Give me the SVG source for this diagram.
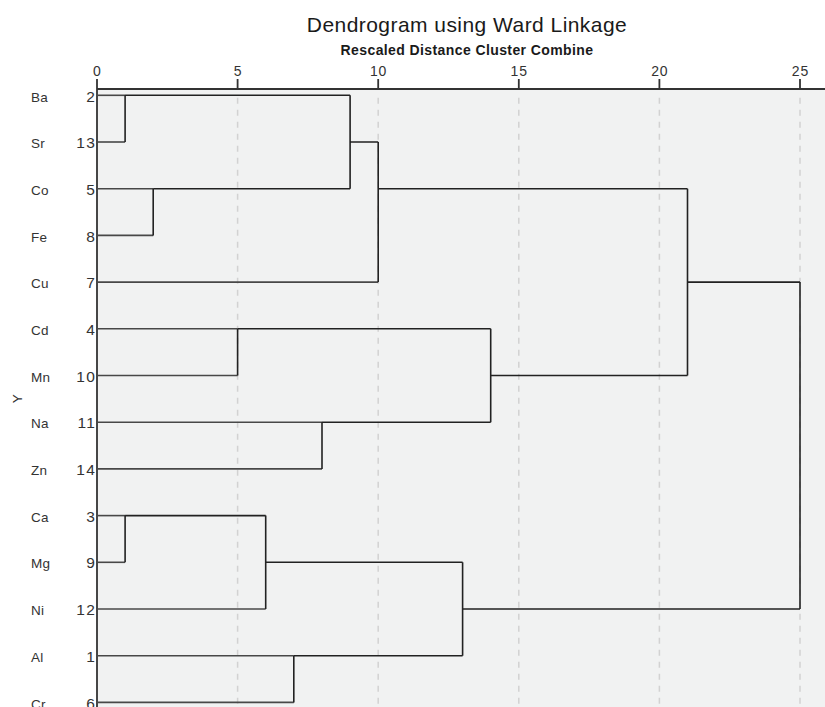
<svg xmlns="http://www.w3.org/2000/svg" width="825" height="707" viewBox="0 0 825 707">
<style>
text{font-family:"Liberation Sans",Arial,sans-serif;fill:#1a1a1a}
.title{font-size:21px;letter-spacing:0.45px}
.sub{font-size:14px;font-weight:bold;letter-spacing:0.4px}
.tick{font-size:14px;letter-spacing:0.8px;fill:#333}
.lab{font-size:13.5px;letter-spacing:0.3px;fill:#333}
.num{font-size:15.5px;letter-spacing:1.2px;fill:#333;text-anchor:end}
.grid{stroke:#d2d2d2;stroke-width:1.5;stroke-dasharray:6 6;fill:none}
.axis{stroke:#333;stroke-width:1.8;fill:none}
.leaf{stroke:#484848;stroke-width:1.6;fill:none}
.link{stroke:#222;stroke-width:1.6;fill:none}
</style>
<rect x="0" y="0" width="825" height="707" fill="#ffffff"/>
<rect x="97" y="89" width="728" height="618" fill="#f1f2f2"/>
<text class="title" x="467" y="32" text-anchor="middle">Dendrogram using Ward Linkage</text>
<text class="sub" x="467" y="55" text-anchor="middle">Rescaled Distance Cluster Combine</text>
<g id="axis">
<path class="grid" d="M237.6 97.7V707M378.2 97.7V707M518.8 97.7V707M659.4 97.7V707M800 97.7V707"/>
<path class="axis" d="M97 89H825M97 79V707M237.6 79V89M378.2 79V89M518.8 79V89M659.4 79V89M800 79V89"/>
<text class="tick" x="97.4" y="76" text-anchor="middle">0</text>
<text class="tick" x="238" y="76" text-anchor="middle">5</text>
<text class="tick" x="378.6" y="76" text-anchor="middle">10</text>
<text class="tick" x="519.2" y="76" text-anchor="middle">15</text>
<text class="tick" x="659.8" y="76" text-anchor="middle">20</text>
<text class="tick" x="800.4" y="76" text-anchor="middle">25</text>
<text class="lab" x="0" y="0" transform="translate(22 398.5) rotate(-90)" text-anchor="middle">Y</text>
</g>
<g id="leaf-Ba"><text class="lab" x="31" y="101.5">Ba</text><text class="num" x="96" y="101.5">2</text><path class="leaf" d="M97 95.3H125.1"/></g>
<g id="leaf-Sr"><text class="lab" x="31" y="148">Sr</text><text class="num" x="96" y="148">13</text><path class="leaf" d="M97 142H125.1"/></g>
<g id="leaf-Co"><text class="lab" x="31" y="195">Co</text><text class="num" x="96" y="195">5</text><path class="leaf" d="M97 188.7H153.2"/></g>
<g id="leaf-Fe"><text class="lab" x="31" y="241.5">Fe</text><text class="num" x="96" y="241.5">8</text><path class="leaf" d="M97 235.4H153.2"/></g>
<g id="leaf-Cu"><text class="lab" x="31" y="288">Cu</text><text class="num" x="96" y="288">7</text><path class="leaf" d="M97 282.1H378.2"/></g>
<g id="leaf-Cd"><text class="lab" x="31" y="335">Cd</text><text class="num" x="96" y="335">4</text><path class="leaf" d="M97 328.8H237.6"/></g>
<g id="leaf-Mn"><text class="lab" x="31" y="381.5">Mn</text><text class="num" x="96" y="381.5">10</text><path class="leaf" d="M97 375.5H237.6"/></g>
<g id="leaf-Na"><text class="lab" x="31" y="428">Na</text><text class="num" x="96" y="428">11</text><path class="leaf" d="M97 422.2H322"/></g>
<g id="leaf-Zn"><text class="lab" x="31" y="475">Zn</text><text class="num" x="96" y="475">14</text><path class="leaf" d="M97 468.9H322"/></g>
<g id="leaf-Ca"><text class="lab" x="31" y="521.5">Ca</text><text class="num" x="96" y="521.5">3</text><path class="leaf" d="M97 515.6H125.1"/></g>
<g id="leaf-Mg"><text class="lab" x="31" y="568">Mg</text><text class="num" x="96" y="568">9</text><path class="leaf" d="M97 562.3H125.1"/></g>
<g id="leaf-Ni"><text class="lab" x="31" y="615">Ni</text><text class="num" x="96" y="615">12</text><path class="leaf" d="M97 609H265.7"/></g>
<g id="leaf-Al"><text class="lab" x="31" y="661.5">Al</text><text class="num" x="96" y="661.5">1</text><path class="leaf" d="M97 655.7H293.8"/></g>
<g id="leaf-Cr"><text class="lab" x="31" y="708.5">Cr</text><text class="num" x="96" y="708.5">6</text><path class="leaf" d="M97 702.4H293.8"/></g>
<g id="connectors">
<path class="link" d="M125.1 95.3V142M125.1 95.3H350.1"/>
<path class="link" d="M153.2 188.7V235.4M153.2 188.7H350.1"/>
<path class="link" d="M350.1 95.3V188.7M350.1 142H378.2"/>
<path class="link" d="M378.2 142V282.1M378.2 188.7H687.5"/>
<path class="link" d="M237.6 328.8V375.5M237.6 328.8H490.7"/>
<path class="link" d="M322 422.2V468.9M322 422.2H490.7"/>
<path class="link" d="M490.7 328.8V422.2M490.7 375.5H687.5"/>
<path class="link" d="M687.5 188.7V375.5M687.5 282.1H800"/>
<path class="link" d="M125.1 515.6V562.3M125.1 515.6H265.7"/>
<path class="link" d="M265.7 515.6V609M265.7 562.3H462.6"/>
<path class="link" d="M293.8 655.7V702.4M293.8 655.7H462.6"/>
<path class="link" d="M462.6 562.3V655.7M462.6 609H800"/>
<path class="link" d="M800 282.1V609"/>
</g>
</svg>
